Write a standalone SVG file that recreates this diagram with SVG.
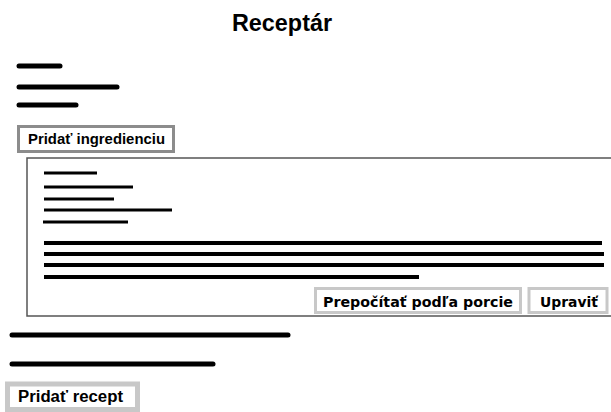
<svg xmlns="http://www.w3.org/2000/svg" width="611" height="412" viewBox="0 0 611 412">
<style>
  .bar { stroke: #000; stroke-linecap: round; fill: none; }
  .thin { stroke-width: 3; stroke-linecap: butt; }
  .mid { stroke-width: 4; stroke-linecap: butt; }
  .thick { stroke-width: 5; }
  .btn { fill: #fff; }
  .btnA { stroke: #8c8c8c; stroke-width: 3; }
  .btnB { stroke: #c8c8c8; stroke-width: 3; }
  .btnC { stroke: #c8c8c8; stroke-width: 5; }
  .lbl { font-family: "Liberation Sans", Arial, sans-serif; font-weight: bold; fill: #000; }
  .lbl2 { font-family: "DejaVu Sans", Verdana, sans-serif; font-weight: bold; fill: #000; }
</style>
<rect x="0" y="0" width="611" height="412" fill="#fff"/>
<g id="title">
  <text class="lbl" x="282" y="31" font-size="24" text-anchor="middle" textLength="100" lengthAdjust="spacingAndGlyphs">Receptár</text>
</g>
<g id="header-lines">
  <line class="bar thick" x1="19" y1="66" x2="60" y2="66"/>
  <line class="bar thick" x1="19" y1="87" x2="117" y2="87"/>
  <line class="bar thick" x1="19" y1="105" x2="76" y2="105"/>
</g>
<g id="btn-ingredient">
  <rect class="btn btnA" x="18.5" y="126.5" width="155" height="25"/>
  <text class="lbl" x="28" y="144" font-size="15" textLength="137" lengthAdjust="spacingAndGlyphs">Pridať ingredienciu</text>
</g>
<g id="recipe-panel">
  <rect x="27" y="158" width="600" height="158" fill="#fff" stroke="#555" stroke-width="1.5"/>
  <line class="bar thin" x1="44" y1="173" x2="97" y2="173"/>
  <line class="bar thin" x1="44" y1="187" x2="133" y2="187"/>
  <line class="bar thin" x1="44" y1="199" x2="114" y2="199"/>
  <line class="bar thin" x1="44" y1="210" x2="172" y2="210"/>
  <line class="bar thin" x1="43" y1="222" x2="128" y2="222"/>
  <line class="bar mid" x1="44" y1="243" x2="602" y2="243"/>
  <line class="bar mid" x1="44" y1="254" x2="604" y2="254"/>
  <line class="bar mid" x1="44" y1="265" x2="604" y2="265"/>
  <line class="bar mid" x1="44" y1="277" x2="419" y2="277"/>
  <g id="btn-recalc">
    <rect class="btn btnB" x="315.5" y="288.5" width="205" height="24"/>
    <text class="lbl2" x="323" y="307" font-size="13.5" textLength="190" lengthAdjust="spacingAndGlyphs">Prepočítať podľa porcie</text>
  </g>
  <g id="btn-edit">
    <rect class="btn btnB" x="529" y="288.5" width="78" height="24"/>
    <text class="lbl2" x="540" y="307" font-size="13.5" textLength="58" lengthAdjust="spacingAndGlyphs">Upraviť</text>
  </g>
</g>
<g id="footer-lines">
  <line class="bar thick" x1="12" y1="335" x2="288" y2="335"/>
  <line class="bar thick" x1="12" y1="364" x2="213" y2="364"/>
</g>
<g id="btn-recipe">
  <rect class="btn btnC" x="7.5" y="384" width="130" height="25.5"/>
  <text class="lbl" x="18" y="402" font-size="16" textLength="105" lengthAdjust="spacingAndGlyphs">Pridať recept</text>
</g>
</svg>
